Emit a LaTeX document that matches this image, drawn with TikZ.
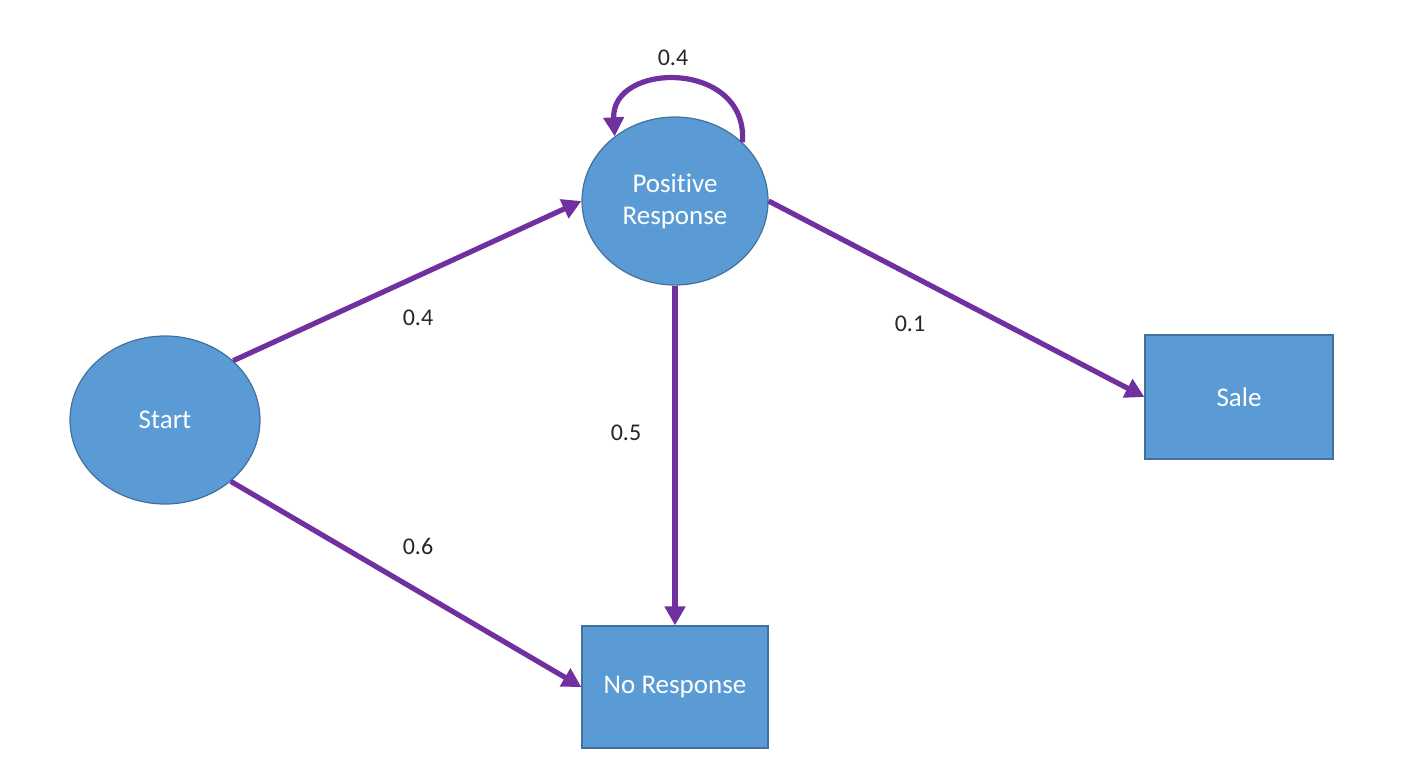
\documentclass[tikz,border=0pt]{standalone}
\usepackage{fontspec}
\setmainfont{Carlito}[Ligatures=NoCommon]
\usetikzlibrary{arrows.meta,shapes.geometric}
\definecolor{nodefill}{HTML}{5B9BD5}
\definecolor{nodeedge}{HTML}{41719C}
\definecolor{arrowpurple}{HTML}{7030A0}
\tikzset{
  statebox/.style={ellipse, draw=nodeedge, line width=0.6pt, fill=nodefill, text=white,
    inner sep=0pt, align=center, font=\fontsize{13.5}{16}\selectfont},
  endbox/.style={rectangle, draw=nodeedge, line width=0.6pt, fill=nodefill, text=white,
    inner sep=0pt, align=center, font=\fontsize{13.5}{16}\selectfont},
  flow/.style={draw=arrowpurple, line width=2.6pt,
    -{Triangle[length=9.5pt,width=10pt]}},
  prob/.style={font=\fontsize{12}{14}\selectfont, text=black!85, inner sep=0pt}
}
\begin{document}
\begin{tikzpicture}[x=0.5pt,y=-0.5pt]
\useasboundingbox (0,0) rectangle (1401,765);
% states
\node[statebox, minimum width=95pt, minimum height=84pt] (start) at (165,420) {Start};
\node[statebox, minimum width=93pt, minimum height=84pt] (pos) at (675,201) {Positive\\Response};
\node[endbox, minimum width=93pt, minimum height=61pt] (nores) at (675,687) {No Response};
\node[endbox, minimum width=94pt, minimum height=62pt] (sale) at (1239,397) {Sale};
% transitions
\draw[flow] (start.41) -- (pos.west);
\draw[flow] (start.-43) -- (nores.west);
\draw[flow] (pos.south) -- (nores.north);
\draw[flow] (pos.east) -- (sale.west);
\draw[flow] (pos.41) .. controls +(6,-83) and +(-4,-75) .. (pos.133);
% probabilities
\node[prob] (l1) at (418,318) {0.4};
\node[prob] (l2) at (418,546) {0.6};
\node[prob] (l3) at (626,433) {0.5};
\node[prob] (l4) at (910,324) {0.1};
\node[prob] (l5) at (673,58) {0.4};
\end{tikzpicture}
\end{document}
